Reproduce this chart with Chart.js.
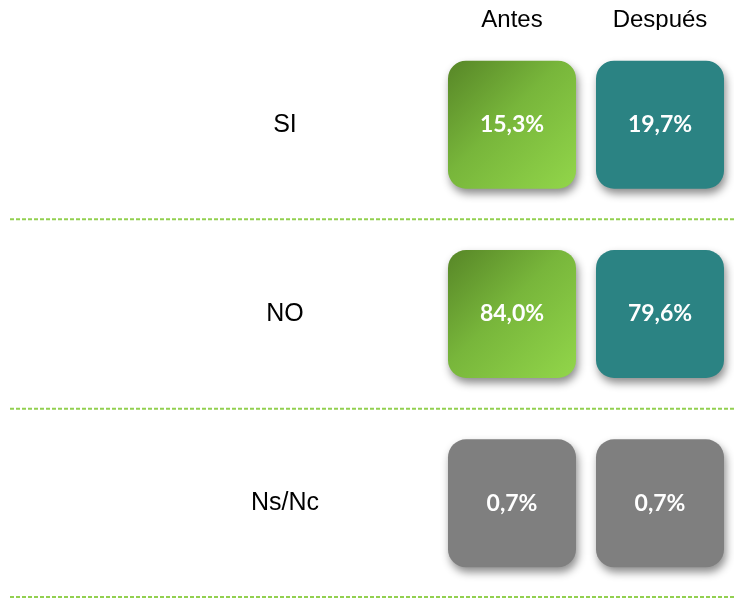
<!DOCTYPE html>
<html>
<head>
<meta charset="utf-8">
<script src="https://cdn.jsdelivr.net/npm/chart.js@4"></script>
<style>
  html, body { margin: 0; padding: 0; background: #fff; }
</style>
</head>
<body>
<canvas id="chart" width="734" height="598"></canvas>
<script>
// datos
const ROWS    = ['SI', 'NO', 'Ns/Nc'];
const COLUMNS = ['Antes', 'Después'];
const ANTES   = [15.3, 84.0, 0.7];
const DESPUES = [19.7, 79.6, 0.7];

const BOX   = 0.338;   // mitad de la altura de cada caja (unidades de fila)
const GREEN = '#7cba3d';
const TEAL  = '#2b8383';
const GRAY  = '#7f7f7f';

const fmt = v => v.toFixed(1).replace('.', ',') + '%';

function boxColor(ctx, row) {
  if (row === ROWS.length - 1) return GRAY;
  if (ctx.dataIndex === 1) return TEAL;
  const chart = ctx.chart;
  if (!chart.chartArea || !chart.scales.x) return GREEN;
  const xs = chart.scales.x, ys = chart.scales.y;
  const cx = xs.getPixelForValue(ctx.dataIndex);
  const cy = ys.getPixelForValue(row);
  const half = xs.width / COLUMNS.length * 0.865 / 2;
  const g = chart.ctx.createLinearGradient(cx - half, cy - half, cx + half, cy + half);
  g.addColorStop(0, '#578627');
  g.addColorStop(0.45, '#78b63b');
  g.addColorStop(1, '#92d64a');
  return g;
}

// líneas discontinuas + sombra + porcentajes
const boxPlugin = {
  id: 'boxPlugin',
  beforeDatasetsDraw(chart) {
    const { ctx, scales: { y }, chartArea } = chart;
    ctx.save();
    ctx.strokeStyle = '#92d050';
    ctx.lineWidth = 2;
    ctx.setLineDash([4, 2]);
    ROWS.forEach((r, i) => {
      const py = Math.min(y.getPixelForValue(i + 0.5), chartArea.bottom - 1);
      ctx.beginPath();
      ctx.moveTo(10, py);
      ctx.lineTo(chartArea.right, py);
      ctx.stroke();
    });
    ctx.restore();

    ctx.save();
    ctx.shadowColor = 'rgba(0,0,0,0.45)';
    ctx.shadowBlur = 9;
    ctx.shadowOffsetX = 2;
    ctx.shadowOffsetY = 5;
  },
  afterDatasetsDraw(chart) {
    const { ctx, scales: { x, y } } = chart;
    ctx.restore();
    ctx.save();
    ctx.fillStyle = '#fff';
    ctx.font = 'bold 23px Lato, "Open Sans", sans-serif';
    ctx.textAlign = 'center';
    ctx.textBaseline = 'middle';
    ROWS.forEach((r, i) => {
      ctx.fillText(fmt(ANTES[i]),   x.getPixelForValue(0), y.getPixelForValue(i));
      ctx.fillText(fmt(DESPUES[i]), x.getPixelForValue(1), y.getPixelForValue(i));
    });
    ctx.restore();
  }
};

new Chart(document.getElementById('chart'), {
  type: 'bar',
  data: {
    labels: COLUMNS,
    datasets: ROWS.map((row, i) => ({
      label: row,
      data: COLUMNS.map(() => [i - BOX, i + BOX]),
      backgroundColor: ctx => boxColor(ctx, i),
      borderWidth: 0,
      borderRadius: 18,
      borderSkipped: false,
      grouped: false,
      barPercentage: 0.865,
      categoryPercentage: 1
    }))
  },
  options: {
    responsive: false,
    animation: false,
    layout: { padding: 0 },
    plugins: {
      legend: { display: false },
      tooltip: { enabled: false }
    },
    scales: {
      x: {
        position: 'top',
        grid: { display: false, drawTicks: false },
        border: { display: false },
        ticks: {
          color: '#000',
          padding: 0,
          font: { family: '"Liberation Sans", Arial, sans-serif', size: 24, lineHeight: 0.8 }
        },
        afterFit: axis => { axis.height = 30; }
      },
      y: {
        type: 'linear',
        reverse: true,
        min: -0.5,
        max: 2.5,
        grid: { display: false, drawTicks: true, tickLength: 119 },
        border: { display: false },
        afterBuildTicks: axis => { axis.ticks = ROWS.map((r, i) => ({ value: i })); },
        ticks: {
          color: '#000',
          crossAlign: 'center',
          padding: 0,
          autoSkip: false,
          font: { family: '"Liberation Sans", Arial, sans-serif', size: 25 },
          callback: v => ROWS[v]
        },
        afterFit: axis => {
          axis.width = 438;
          axis.paddingTop = 0;
          axis.paddingBottom = 0;
        }
      }
    }
  },
  plugins: [boxPlugin]
});
</script>
</body>
</html>
